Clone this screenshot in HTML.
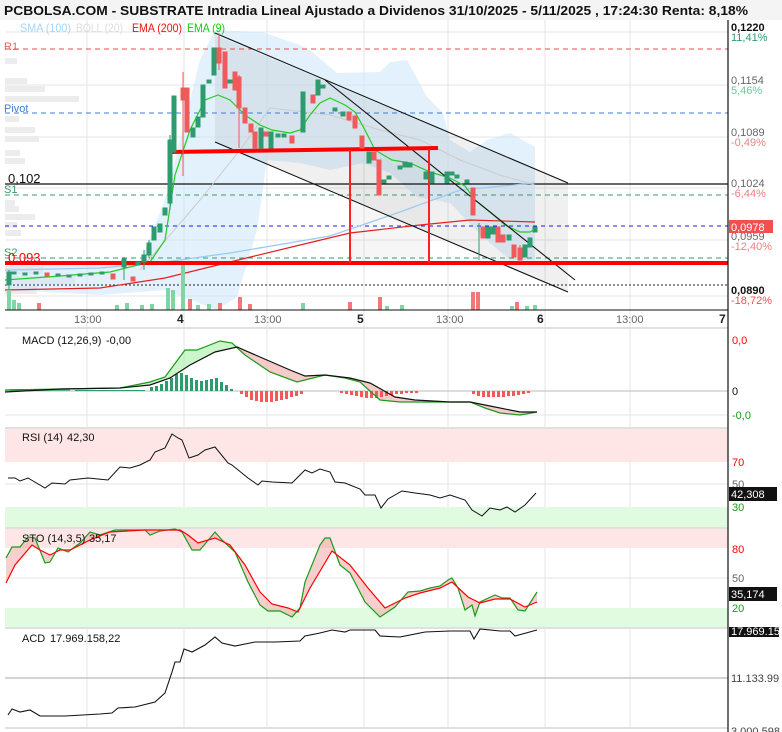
<!DOCTYPE html>
<html><head><meta charset="utf-8"><style>
body{margin:0;background:#fff;}
svg{display:block;font-family:"Liberation Sans",sans-serif;}
</style></head><body>
<svg width="782" height="732" viewBox="0 0 782 732" xmlns="http://www.w3.org/2000/svg">
<defs>
<clipPath id="cg"><rect x="0" y="320" width="240" height="110"/></clipPath>
<clipPath id="cr"><rect x="240" y="320" width="400" height="110"/></clipPath>
</defs>
<rect x="0" y="0" width="782" height="20" fill="#f4f4f4"/>
<text x="4" y="15" font-size="12.5" font-weight="bold" fill="#111" textLength="744" lengthAdjust="spacingAndGlyphs">PCBOLSA.COM - SUBSTRATE Intradia Lineal Ajustado a Dividenos 31/10/2025 - 5/11/2025 , 17:24:30 Renta: 8,18%</text>
<rect x="728" y="20" width="54" height="712" fill="#fff"/>
<rect x="5" y="20" width="723" height="290" fill="#fff"/>
<!-- grid main -->
<g stroke="#e4e4e4" stroke-width="1">
<line x1="5" y1="32" x2="728" y2="32"/><line x1="5" y1="85" x2="728" y2="85"/><line x1="5" y1="137" x2="728" y2="137"/><line x1="5" y1="188" x2="728" y2="188"/><line x1="5" y1="240" x2="728" y2="240"/><line x1="5" y1="296" x2="728" y2="296"/>
<line x1="87" y1="20" x2="87" y2="727"/><line x1="184" y1="20" x2="184" y2="727"/><line x1="267" y1="20" x2="267" y2="727"/><line x1="364" y1="20" x2="364" y2="727"/><line x1="448" y1="20" x2="448" y2="727"/><line x1="545" y1="20" x2="545" y2="727"/><line x1="630" y1="20" x2="630" y2="727"/>
</g>
<!-- volume profile -->
<g fill="#ececec">
<rect x="5" y="58" width="12" height="6"/><rect x="5" y="78" width="22" height="6"/><rect x="5" y="86" width="40" height="6"/><rect x="5" y="96" width="74" height="6"/><rect x="5" y="116" width="14" height="6"/><rect x="5" y="127" width="30" height="6"/><rect x="5" y="136" width="34" height="6"/><rect x="5" y="150" width="15" height="6"/><rect x="5" y="158" width="20" height="6"/><rect x="5" y="200" width="10" height="6"/><rect x="5" y="206" width="14" height="6"/><rect x="5" y="214" width="30" height="6"/><rect x="5" y="222" width="12" height="6"/><rect x="5" y="230" width="16" height="6"/><rect x="5" y="266" width="38" height="8"/><rect x="5" y="276" width="70" height="8"/><rect x="5" y="286" width="32" height="8"/>
</g>
<!-- bollinger band -->
<polygon fill="#cfe8fa" fill-opacity="0.6" points="10,262 140,262 165,200 200,60 215,30 262,32 300,45 310,50 337,73 380,72 390,62 407,60 427,97 443,113 450,140 470,152 487,140 510,133 535,147 535,260 510,260 483,237 450,203 417,197 390,173 363,163 330,170 300,163 267,160 257,230 237,297 217,310 165,290 100,295 10,290"/>
<!-- channel gray -->
<polygon fill="#888" fill-opacity="0.13" points="215,35 568,183 568,292 215,142"/>
<rect x="350" y="150" width="79" height="113" fill="#888" fill-opacity="0.08"/>
<!-- levels -->
<line x1="5" y1="49" x2="728" y2="49" stroke="#f04848" stroke-dasharray="5,4"/>
<line x1="5" y1="113" x2="728" y2="113" stroke="#3f7fd0" stroke-dasharray="5,4"/>
<line x1="5" y1="184" x2="728" y2="184" stroke="#111" stroke-width="1.2"/>
<line x1="5" y1="195" x2="728" y2="195" stroke="#3a9a6a" stroke-dasharray="5,4"/>
<line x1="5" y1="226" x2="728" y2="226" stroke="#1a1aee" stroke-dasharray="4,4"/>
<line x1="5" y1="258" x2="728" y2="258" stroke="#3a9a6a" stroke-dasharray="5,4"/>
<line x1="5" y1="285" x2="728" y2="285" stroke="#222" stroke-dasharray="2,2"/>
<!-- MAs -->
<polyline fill="none" stroke="#cccccc" stroke-width="1" points="140,270 200,200 240,150 270,108 330,115 380,130 420,140 460,160 500,175 535,185"/>
<polyline fill="none" stroke="#9ccbf0" stroke-width="1.3" points="5,270 100,268 165,262 230,253 330,236 400,212 460,190 535,183"/>
<polyline fill="none" stroke="#e82020" stroke-width="1.2" points="5,290 100,288 165,278 230,262 300,245 350,233 420,225 470,220 535,222"/>
<polyline fill="none" stroke="#22cc22" stroke-width="1.2" points="5,280 60,276 110,272 150,262 165,240 175,175 190,130 205,100 218,95 230,100 245,115 260,125 272,130 290,133 300,130 310,115 320,103 330,98 345,105 355,112 365,130 375,150 392,160 410,163 430,172 450,178 465,186 475,200 490,212 505,225 520,232 530,232 537,228"/>
<!-- channel lines -->
<g stroke="#111" stroke-width="1.1">
<line x1="215" y1="33" x2="568" y2="183"/><line x1="215" y1="142" x2="568" y2="292"/><line x1="325" y1="80" x2="575" y2="280"/>
</g>
<!-- red levels -->
<line x1="5" y1="263" x2="728" y2="263" stroke="#f00" stroke-width="4"/>
<line x1="170" y1="152" x2="438" y2="148" stroke="#f00" stroke-width="4"/>
<line x1="350" y1="150" x2="350" y2="263" stroke="#f22" stroke-width="2"/>
<line x1="429" y1="149" x2="429" y2="263" stroke="#f22" stroke-width="2"/>
<!-- candles -->
<g stroke-width="1">
<g stroke="#2e9b6e" fill="#2e9b6e">
<line x1="9" y1="270" x2="9" y2="290"/><rect x="7" y="272" width="4" height="13"/>
<rect x="12" y="272" width="4" height="2"/><rect x="23" y="273" width="4" height="2"/><rect x="34" y="272" width="4" height="2"/><rect x="56" y="274" width="4" height="2"/><rect x="67" y="275" width="4" height="2"/><rect x="78" y="274" width="4" height="2"/><rect x="89" y="273" width="4" height="2"/><rect x="100" y="272" width="4" height="2"/>
<line x1="124" y1="257" x2="124" y2="280"/><rect x="122" y="259" width="4" height="8"/>
<rect x="136" y="262" width="4" height="3"/>
<line x1="144" y1="250" x2="144" y2="270"/><rect x="142" y="255" width="4" height="7"/>
<line x1="149" y1="240" x2="149" y2="258"/><rect x="147" y="243" width="4" height="12"/>
<rect x="152" y="227" width="4" height="13"/>
<rect x="158" y="224" width="4" height="8"/>
<rect x="163" y="208" width="4" height="7"/>
<line x1="170" y1="135" x2="170" y2="210"/><rect x="168" y="140" width="4" height="63"/>
<rect x="172" y="96" width="4" height="56"/>
<rect x="191" y="128" width="4" height="9"/><rect x="196" y="117" width="4" height="10"/><rect x="201" y="85" width="4" height="32"/><rect x="207" y="80" width="4" height="3"/><rect x="212" y="48" width="4" height="27"/>
<rect x="228" y="80" width="4" height="3"/><rect x="259" y="128" width="4" height="20"/><rect x="269" y="132" width="4" height="16"/><rect x="276" y="134" width="4" height="3"/><rect x="282" y="134" width="4" height="3"/>
<rect x="301" y="92" width="4" height="40"/><rect x="316" y="80" width="4" height="15"/><rect x="321" y="85" width="4" height="3"/><rect x="333" y="108" width="4" height="3"/><rect x="341" y="112" width="4" height="4"/>
<rect x="367" y="152" width="4" height="11"/><rect x="382" y="180" width="4" height="3"/><rect x="387" y="176" width="4" height="3"/><rect x="398" y="166" width="4" height="3"/><rect x="403" y="162" width="4" height="5"/><rect x="408" y="163" width="4" height="4"/><rect x="424" y="172" width="4" height="7"/><rect x="430" y="172" width="4" height="11"/><rect x="445" y="172" width="4" height="11"/><rect x="450" y="172" width="4" height="3"/><rect x="455" y="175" width="4" height="3"/><rect x="465" y="180" width="4" height="3"/>
<line x1="479" y1="223" x2="479" y2="260"/><rect x="486" y="227" width="4" height="11"/><rect x="491" y="227" width="4" height="7"/><rect x="507" y="235" width="4" height="5"/><rect x="523" y="245" width="4" height="12"/><rect x="528" y="238" width="4" height="9"/><rect x="533" y="227" width="4" height="5"/>
</g>
<g stroke="#f05a5a" fill="#f05a5a">
<rect x="45" y="273" width="4" height="3"/><rect x="111" y="274" width="4" height="5"/><rect x="131" y="277" width="4" height="4"/>
<line x1="183" y1="72" x2="183" y2="176"/><rect x="181" y="88" width="4" height="12"/>
<rect x="185" y="88" width="4" height="44"/>
<line x1="219" y1="33" x2="219" y2="70"/><rect x="217" y="48" width="4" height="15"/>
<rect x="223" y="52" width="4" height="36"/><rect x="233" y="72" width="4" height="18"/>
<line x1="239" y1="75" x2="239" y2="148"/><rect x="237" y="77" width="4" height="31"/>
<rect x="243" y="108" width="4" height="15"/><rect x="249" y="124" width="4" height="8"/><rect x="253" y="132" width="4" height="16"/><rect x="264" y="132" width="4" height="4"/><rect x="290" y="136" width="4" height="7"/><rect x="311" y="95" width="4" height="8"/>
<rect x="347" y="112" width="4" height="8"/><rect x="353" y="116" width="4" height="12"/><rect x="360" y="136" width="4" height="12"/><rect x="372" y="152" width="4" height="8"/><rect x="377" y="160" width="4" height="35"/>
<rect x="471" y="188" width="4" height="27"/><rect x="481" y="227" width="4" height="11"/><rect x="496" y="227" width="4" height="15"/><rect x="501" y="235" width="4" height="7"/><rect x="512" y="245" width="4" height="12"/><line x1="520" y1="245" x2="520" y2="262"/><rect x="518" y="248" width="4" height="12"/>
</g>
</g>
<!-- volume -->
<g fill="#7fd6a4">
<rect x="7" y="290" width="4" height="20"/><rect x="12" y="300" width="4" height="10"/><rect x="17" y="303" width="4" height="7"/><rect x="115" y="305" width="4" height="5"/><rect x="125" y="303" width="4" height="7"/><rect x="140" y="305" width="4" height="5"/><rect x="150" y="304" width="4" height="6"/><rect x="166" y="288" width="4" height="22"/><rect x="171" y="290" width="4" height="20"/><rect x="181" y="265" width="4" height="45"/><rect x="196" y="305" width="4" height="5"/><rect x="207" y="304" width="4" height="6"/><rect x="301" y="303" width="4" height="7"/><rect x="385" y="306" width="4" height="4"/><rect x="400" y="305" width="4" height="5"/><rect x="510" y="306" width="4" height="4"/><rect x="525" y="306" width="4" height="4"/><rect x="533" y="305" width="4" height="5"/>
</g>
<g fill="#f07878">
<rect x="37" y="303" width="4" height="7"/><rect x="188" y="299" width="4" height="11"/><rect x="218" y="303" width="4" height="7"/><rect x="238" y="297" width="4" height="13"/><rect x="248" y="304" width="4" height="6"/><rect x="348" y="302" width="4" height="8"/><rect x="378" y="297" width="4" height="13"/><rect x="471" y="292" width="4" height="18"/><rect x="476" y="292" width="4" height="18"/><rect x="515" y="302" width="4" height="8"/>
</g>
<!-- legend -->
<g font-size="12">
<text x="20" y="32" fill="#a9d3f3" textLength="51" lengthAdjust="spacingAndGlyphs">SMA (100)</text>
<text x="76" y="32" fill="#dddddd" textLength="47" lengthAdjust="spacingAndGlyphs">BOLL (20)</text>
<text x="132" y="32" fill="#ee1111" textLength="50" lengthAdjust="spacingAndGlyphs">EMA (200)</text>
<text x="187" y="32" fill="#11cc11" textLength="38" lengthAdjust="spacingAndGlyphs">EMA (9)</text>
</g>
<g font-size="11">
<text x="4" y="50" fill="#f06060">R1</text>
<text x="4" y="112" fill="#3f7fd0">Pivot</text>
<text x="4" y="193" fill="#3a9a6a">S1</text>
<text x="4" y="256" fill="#3a9a6a">S2</text>
</g>
<text x="8" y="183" font-size="13" fill="#111">0,102</text>
<text x="8" y="262" font-size="13" fill="#f00">0,093</text>
<!-- right axis main -->
<g font-size="11">
<text x="731" y="31" fill="#111" font-weight="bold">0,1220</text><text x="731" y="41" fill="#2e9b6e">11,41%</text>
<text x="731" y="84" fill="#666">0,1154</text><text x="731" y="94" fill="#6cc49a">5,46%</text>
<text x="731" y="136" fill="#666">0,1089</text><text x="731" y="146" fill="#f08080">-0,49%</text>
<text x="731" y="187" fill="#666">0,1024</text><text x="731" y="197" fill="#f08080">-6,44%</text>
<text x="731" y="240" fill="#666">0,0959</text><text x="731" y="250" fill="#f08080">-12,40%</text>
<rect x="729" y="220" width="44" height="13" fill="#f05050"/><text x="731" y="231" fill="#fff">0,0978</text>
<text x="731" y="294" fill="#111" font-weight="bold">0,0890</text><text x="731" y="304" fill="#f05050">-18,72%</text>
</g>
<line x1="5" y1="310" x2="728" y2="310" stroke="#111"/>
<g font-size="11" fill="#666">
<text x="74" y="323">13:00</text><text x="254" y="323">13:00</text><text x="436" y="323">13:00</text><text x="616" y="323">13:00</text>
</g>
<g font-size="12" font-weight="bold" fill="#222"><text x="177" y="323">4</text><text x="357" y="323">5</text><text x="537" y="323">6</text><text x="719" y="323">7</text></g>
<!-- separators -->
<g fill="#e0e0e0"><rect x="5" y="327" width="723" height="2"/><rect x="5" y="427" width="723" height="2"/><rect x="5" y="527" width="723" height="2"/><rect x="5" y="627" width="723" height="2"/><rect x="5" y="727" width="723" height="2"/></g>
<!-- MACD -->
<line x1="5" y1="415" x2="728" y2="415" stroke="#e4e4e4"/>
<line x1="5" y1="391" x2="728" y2="391" stroke="#bbb"/>
<g clip-path="url(#cg)"><polygon fill="#a8f0a8" fill-opacity="0.6" points="5,392 60,389 120,388 150,385 170,378 190,365 215,352 237,347 260,357 260,357 232,343 220,341 197,350 185,350 165,377 150,382 120,388 5,390"/></g>
<g clip-path="url(#cr)"><polygon fill="#f4a8a8" fill-opacity="0.6" points="237,347 260,357 290,370 305,376 325,375 350,378 370,383 395,397 415,400 450,402 470,402 490,406 520,412 537,412 520,415 500,413 485,408 470,402 450,402 400,402 380,400 360,382 345,378 325,375 297,382 270,372 245,355 232,343"/></g>
<g fill="#2e9b6e">
<rect x="150" y="387" width="3" height="4"/><rect x="155" y="386" width="3" height="5"/><rect x="160" y="384" width="3" height="7"/><rect x="165" y="381" width="3" height="10"/><rect x="170" y="378" width="3" height="13"/><rect x="175" y="374" width="3" height="17"/><rect x="180" y="373" width="3" height="18"/><rect x="185" y="375" width="3" height="16"/><rect x="190" y="378" width="3" height="13"/><rect x="195" y="380" width="3" height="11"/><rect x="200" y="381" width="3" height="10"/><rect x="205" y="380" width="3" height="11"/><rect x="210" y="379" width="3" height="12"/><rect x="215" y="378" width="3" height="13"/><rect x="220" y="382" width="3" height="9"/><rect x="225" y="385" width="3" height="6"/><rect x="230" y="389" width="3" height="2"/>
<rect x="10" y="389" width="60" height="2" fill-opacity="0.7"/><rect x="75" y="390" width="70" height="1"/>
</g>
<g fill="#f45858">
<rect x="240" y="391" width="3" height="3"/><rect x="245" y="391" width="3" height="6"/><rect x="250" y="391" width="3" height="9"/><rect x="255" y="391" width="3" height="10"/><rect x="260" y="391" width="3" height="11"/><rect x="265" y="391" width="3" height="11"/><rect x="270" y="391" width="3" height="11"/><rect x="275" y="391" width="3" height="10"/><rect x="280" y="391" width="3" height="9"/><rect x="285" y="391" width="3" height="8"/><rect x="290" y="391" width="3" height="6"/><rect x="295" y="391" width="3" height="5"/><rect x="300" y="391" width="3" height="3"/>
<rect x="340" y="391" width="3" height="2"/><rect x="345" y="391" width="3" height="3"/><rect x="350" y="391" width="3" height="4"/><rect x="355" y="391" width="3" height="5"/><rect x="360" y="391" width="3" height="6"/><rect x="365" y="391" width="3" height="7"/><rect x="370" y="391" width="3" height="7"/><rect x="375" y="391" width="3" height="7"/><rect x="380" y="391" width="3" height="6"/><rect x="385" y="391" width="3" height="5"/><rect x="390" y="391" width="3" height="4"/><rect x="395" y="391" width="3" height="3"/><rect x="400" y="391" width="3" height="3"/><rect x="405" y="391" width="3" height="2"/><rect x="410" y="391" width="3" height="2"/><rect x="415" y="391" width="3" height="2"/>
<rect x="472" y="391" width="3" height="3"/><rect x="477" y="391" width="3" height="5"/><rect x="482" y="391" width="3" height="6"/><rect x="487" y="391" width="3" height="6"/><rect x="492" y="391" width="3" height="6"/><rect x="497" y="391" width="3" height="6"/><rect x="502" y="391" width="3" height="6"/><rect x="507" y="391" width="3" height="5"/><rect x="512" y="391" width="3" height="5"/><rect x="517" y="391" width="3" height="4"/><rect x="522" y="391" width="3" height="3"/><rect x="527" y="391" width="3" height="2"/>
</g>
<polyline fill="none" stroke="#1a9a1a" stroke-width="1.2" points="5,390 120,388 150,382 165,377 185,350 197,350 220,341 232,343 245,355 270,372 297,382 325,375 345,378 360,382 380,400 400,402 450,402 470,402 485,408 500,413 520,415 537,412"/>
<polyline fill="none" stroke="#111" stroke-width="1.2" points="5,392 60,389 120,388 150,385 170,378 190,365 215,352 237,347 260,357 290,370 305,376 325,375 350,378 370,383 395,397 415,400 450,402 470,402 490,406 520,412 537,412"/>
<text y="344" font-size="11" fill="#111"><tspan x="22">MACD (12,26,9)</tspan><tspan x="106">-0,00</tspan></text>
<g font-size="11"><text x="732" y="344" fill="#f00">0,0</text><text x="732" y="395" fill="#111">0</text><text x="732" y="419" fill="#1a9a1a">-0,0</text></g>
<!-- RSI -->
<rect x="5" y="429" width="723" height="33" fill="#ffe6e6"/>
<rect x="5" y="507" width="723" height="20" fill="#e0fbe0"/>
<line x1="5" y1="484" x2="728" y2="484" stroke="#e4e4e4"/>
<polyline fill="none" stroke="#111" stroke-width="1" points="8,478 15,478 20,481 28,478 45,488 52,483 65,484 70,480 88,478 98,479 108,480 120,467 130,468 140,465 150,460 155,452 165,448 172,434 178,438 182,440 189,458 198,455 205,450 215,447 228,463 232,465 248,478 258,485 262,481 272,482 292,483 305,470 312,473 320,469 330,472 335,482 345,483 360,489 365,495 375,495 381,508 388,499 402,491 415,493 430,495 440,498 450,495 465,500 472,510 482,516 490,508 500,510 507,507 515,512 525,505 536,493"/>
<text y="441" font-size="11" fill="#111"><tspan x="22">RSI (14)</tspan><tspan x="67">42,30</tspan></text>
<g font-size="11"><text x="732" y="466" fill="#f00">70</text><text x="732" y="488" fill="#666">50</text><text x="732" y="511" fill="#1a9a1a">30</text>
<rect x="729" y="487" width="48" height="14" fill="#111"/><text x="731" y="498" fill="#fff">42,308</text></g>
<!-- STO -->
<rect x="5" y="529" width="723" height="19" fill="#ffe6e6"/>
<rect x="5" y="608" width="723" height="19" fill="#e0fbe0"/>
<line x1="5" y1="578" x2="728" y2="578" stroke="#e4e4e4"/>
<polygon fill="#f0a0a0" fill-opacity="0.5" points="6,558 12,547 20,547 28,537 35,538 45,563 50,562 58,548 68,552 80,543 90,532 100,535 115,530 145,530 150,535 160,531 175,529 182,532 192,550 200,550 215,532 222,540 235,552 248,582 260,605 268,611 280,611 292,617 300,608 305,582 320,545 325,538 330,538 340,565 350,573 365,602 380,617 395,607 408,592 420,591 430,588 440,586 448,580 452,578 458,588 465,610 472,605 475,616 480,602 495,595 502,598 510,598 518,610 525,611 537,592 537,602 525,607 510,599 495,599 480,603 468,597 452,582 440,588 420,593 405,598 385,608 368,588 350,565 332,551 310,588 298,612 288,608 272,604 260,592 245,565 230,545 215,538 198,543 188,535 180,530 145,530 110,532 90,540 70,550 60,550 50,555 40,550 32,545 15,565 6,583"/>
<polyline fill="none" stroke="#1a9a1a" stroke-width="1.2" points="6,558 12,547 20,547 28,537 35,538 45,563 50,562 58,548 68,552 80,543 90,532 100,535 115,530 145,530 150,535 160,531 175,529 182,532 192,550 200,550 215,532 222,540 235,552 248,582 260,605 268,611 280,611 292,617 300,608 305,582 320,545 325,538 330,538 340,565 350,573 365,602 380,617 395,607 408,592 420,591 430,588 440,586 448,580 452,578 458,588 465,610 472,605 475,616 480,602 495,595 502,598 510,598 518,610 525,611 537,592"/>
<polyline fill="none" stroke="#f00" stroke-width="1.2" points="6,583 15,565 32,545 40,550 50,555 60,550 70,550 90,540 110,532 145,530 180,530 188,535 198,543 215,538 230,545 245,565 260,592 272,604 288,608 298,612 310,588 332,551 350,565 368,588 385,608 405,598 420,593 440,588 452,582 468,597 480,603 495,599 510,599 525,607 537,602"/>
<text y="542" font-size="11" fill="#111"><tspan x="22">STO (14,3,5)</tspan><tspan x="89">35,17</tspan></text>
<g font-size="11"><text x="732" y="553" fill="#f00">80</text><text x="732" y="582" fill="#666">50</text><text x="732" y="612" fill="#1a9a1a">20</text>
<rect x="729" y="587" width="48" height="14" fill="#111"/><text x="731" y="598" fill="#fff">35,174</text></g>
<!-- ACD -->
<line x1="5" y1="678" x2="728" y2="678" stroke="#bbb" stroke-width="1.2"/>
<polyline fill="none" stroke="#111" stroke-width="1.1" points="8,715 12,709 20,712 30,710 40,716 65,716 100,714 112,713 118,708 135,707 155,702 165,693 172,672 175,662 180,662 184,649 192,652 205,645 215,637 222,643 235,646 255,642 275,642 300,641 305,636 320,633 332,630 345,632 350,630 375,630 380,636 400,637 425,632 450,631 470,631 474,639 480,629 500,631 510,631 515,636 537,630"/>
<text y="642" font-size="11" fill="#111"><tspan x="22">ACD</tspan><tspan x="50">17.969.158,22</tspan></text>
<g font-size="11"><rect x="729" y="627" width="50" height="10" fill="#111"/><text x="731" y="635" fill="#fff">17.969.15</text>
<text x="731" y="682" fill="#444">11.133.99</text><text x="731" y="735" fill="#444">3.000.598</text></g>
<!-- right axis line -->
<line x1="728" y1="20" x2="728" y2="732" stroke="#111" stroke-width="1.2"/>
</svg>
</body></html>
